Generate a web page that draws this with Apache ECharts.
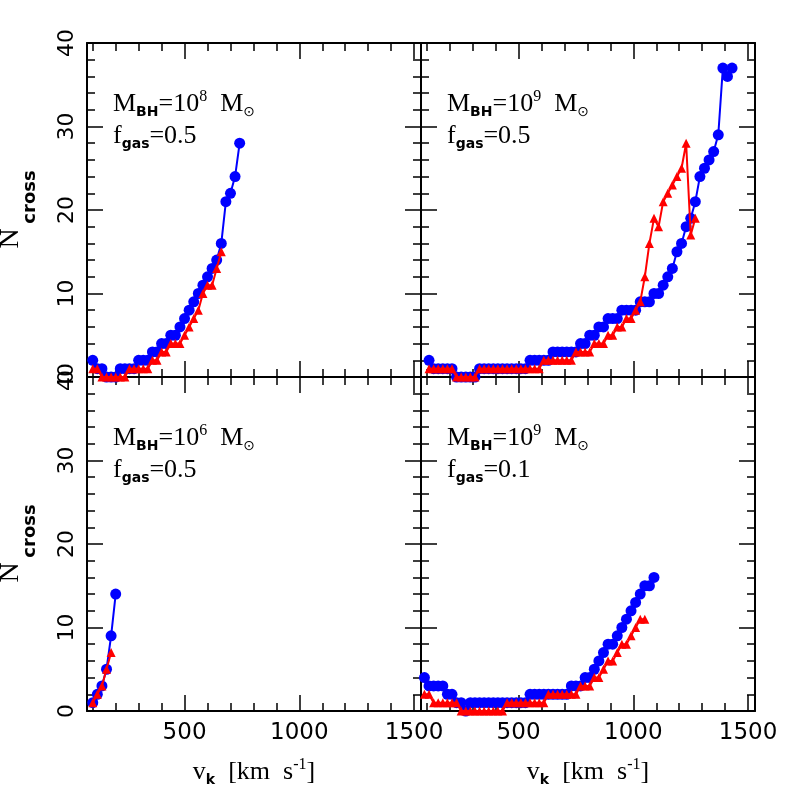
<!DOCTYPE html>
<html>
<head>
<meta charset="utf-8">
<script src="https://cdn.jsdelivr.net/npm/echarts@6/dist/echarts.min.js"></script>
<style>
html, body { margin: 0; padding: 0; background: #fff; }
#chart { width: 797px; height: 797px; }
</style>
</head>
<body>
<div id="chart"></div>
<script>
// panel A: top left, M_BH = 1e8, f_gas = 0.5
const vBlueA = [100,120,140,160,180,200,220,240,260,280,300,320,340,360,380,400,420,440,460,480,500,520,540,560,580,600,620,640,660,680,700,720,740];
const nBlueA = [2,1,1,0,0,0,1,1,1,1,2,2,2,3,3,4,4,5,5,6,7,8,9,10,11,12,13,14,16,21,22,24,28];
const vRedA = [100,120,140,160,180,200,220,240,260,280,300,320,340,360,380,400,420,440,460,480,500,520,540,560,580,600,620,640,660];
const nRedA = [1,1,0,0,0,0,0,0,1,1,1,1,1,2,2,3,3,4,4,4,5,6,7,8,10,11,11,13,15];

// panel B: top right, M_BH = 1e9, f_gas = 0.5
const vBlueB = [110,130,150,170,190,210,230,250,270,290,310,330,350,370,390,410,430,450,470,490,510,530,550,570,590,610,630,650,670,690,710,730,750,770,790,810,830,850,870,890,910,930,950,970,990,1010,1030,1050,1070,1090,1110,1130,1150,1170,1190,1210,1230,1250,1270,1290,1310,1330,1350,1370,1390,1410,1430];
const nBlueB = [2,1,1,1,1,1,0,0,0,0,0,1,1,1,1,1,1,1,1,1,1,1,2,2,2,2,2,3,3,3,3,3,3,4,4,5,5,6,6,7,7,7,8,8,8,8,9,9,9,10,10,11,12,13,15,16,18,19,21,24,25,26,27,29,37,36,37];
const vRedB = [110,130,150,170,190,210,230,250,270,290,310,330,350,370,390,410,430,450,470,490,510,530,550,570,590,610,630,650,670,690,710,730,750,770,790,810,830,850,870,890,910,930,950,970,990,1010,1030,1050,1070,1090,1110,1130,1150,1170,1190,1210,1230,1250,1270];
const nRedB = [1,1,1,1,1,1,0,0,0,0,0,1,1,1,1,1,1,1,1,1,1,1,1,1,1,2,2,2,2,2,2,2,3,3,3,3,4,4,4,5,5,6,6,7,7,8,9,12,16,19,18,21,22,23,24,25,28,17,19];

// panel C: bottom left, M_BH = 1e6, f_gas = 0.5
const vBlueC = [100,120,140,160,180,200];
const nBlueC = [1,2,3,5,9,14];
const vRedC = [100,120,140,160,180];
const nRedC = [1,2,3,5,7];

// panel D: bottom right, M_BH = 1e9, f_gas = 0.1
const vBlueD = [90,110,130,150,170,190,210,230,250,270,290,310,330,350,370,390,410,430,450,470,490,510,530,550,570,590,610,630,650,670,690,710,730,750,770,790,810,830,850,870,890,910,930,950,970,990,1010,1030,1050,1070,1090];
const nBlueD = [4,3,3,3,3,2,2,1,1,0,1,1,1,1,1,1,1,1,1,1,1,1,1,2,2,2,2,2,2,2,2,2,3,3,3,4,4,5,6,7,8,8,9,10,11,12,13,14,15,15,16];
const vRedD = [90,110,130,150,170,190,210,230,250,270,290,310,330,350,370,390,410,430,450,470,490,510,530,550,570,590,610,630,650,670,690,710,730,750,770,790,810,830,850,870,890,910,930,950,970,990,1010,1030,1050];
const nRedD = [2,2,1,1,1,1,1,1,0,0,0,0,0,0,0,0,0,0,1,1,1,1,1,1,1,1,1,2,2,2,2,2,2,2,3,3,3,4,4,5,6,6,7,8,8,9,10,11,11];

const xMajorTicks = [500, 1000, 1500];
const xMinorTicks = [100,200,300,400,500,600,700,800,900,1000,1100,1200,1300,1400,1500];
const massExp = ['8', '9', '6', '9'];
const gasFrac = ['0.5', '0.5', '0.5', '0.1'];

const panels = [
    { blue: [vBlueA, nBlueA], red: [vRedA, nRedA] },
    { blue: [vBlueB, nBlueB], red: [vRedB, nRedB] },
    { blue: [vBlueC, nBlueC], red: [vRedC, nRedC] },
    { blue: [vBlueD, nBlueD], red: [vRedD, nRedD] }
];

const black = '#000';
const gridPos = [[87, 43], [421, 43], [87, 377], [421, 377]];
const grids = gridPos.map(p => ({ left: p[0], top: p[1], width: 334, height: 334 }));

function pairs(v, n) {
    return v.map((x, k) => [x, n[k]]);
}

const tickStyle = { color: black, width: 1.5 };
let xAxes = [], yAxes = [], series = [];

grids.forEach((g, i) => {
    const xBase = {
        type: 'value', gridIndex: i, min: 75, max: 1530,
        splitLine: { show: false }
    };
    const line = { show: true, onZero: false, lineStyle: { color: black, width: 2 } };
    ['bottom', 'top'].forEach(pos => {
        xAxes.push(Object.assign({}, xBase, {
            position: pos,
            axisLine: line,
            axisTick: { inside: true, length: 16, customValues: xMajorTicks, lineStyle: tickStyle },
            axisLabel: {
                show: pos === 'bottom' && i >= 2, customValues: xMajorTicks,
                formatter: v => String(v),
                margin: 11, fontFamily: 'DejaVu Sans', fontSize: 23, color: black
            }
        }));
        xAxes.push(Object.assign({}, xBase, {
            position: pos,
            axisLine: { show: false, onZero: false },
            axisTick: { inside: true, length: 8, customValues: xMinorTicks, lineStyle: tickStyle },
            axisLabel: { show: false }
        }));
    });
    ['left', 'right'].forEach(pos => {
        yAxes.push({
            type: 'value', gridIndex: i, position: pos, min: 0, max: 40, interval: 10,
            splitLine: { show: false },
            axisLine: line,
            axisTick: { inside: true, length: 16, lineStyle: tickStyle },
            minorTick: { show: true, splitNumber: 5, length: 8, lineStyle: tickStyle },
            axisLabel: {
                show: pos === 'left' && i % 2 === 0, rotate: 90, margin: 9,
                fontFamily: 'DejaVu Sans', fontSize: 22, color: black
            }
        });
    });
    const p = panels[i];
    series.push({
        type: 'line', xAxisIndex: i * 4, yAxisIndex: i * 2,
        data: pairs(p.blue[0], p.blue[1]),
        symbol: 'circle', symbolSize: 11, clip: false, z: 2,
        itemStyle: { color: '#0000ff' }, lineStyle: { color: '#0000ff', width: 2 }
    });
    series.push({
        type: 'line', xAxisIndex: i * 4, yAxisIndex: i * 2,
        data: pairs(p.red[0], p.red[1]),
        symbol: 'triangle', symbolSize: 9, clip: false, z: 3,
        itemStyle: { color: '#ff0000' }, lineStyle: { color: '#ff0000', width: 2 }
    });
});

const rich = {
    m: { fontFamily: 'Liberation Serif', fontSize: 26, lineHeight: 30, color: black },
    sb: { fontFamily: 'DejaVu Sans', fontWeight: 'bold', fontSize: 14, lineHeight: 13, verticalAlign: 'bottom', color: black },
    sg: { fontFamily: 'DejaVu Sans', fontWeight: 'bold', fontSize: 14, lineHeight: 8, verticalAlign: 'bottom', color: black },
    sp: { fontFamily: 'Liberation Serif', fontSize: 16, lineHeight: 21, verticalAlign: 'top', color: black },
    sun: { fontFamily: 'DejaVu Sans', fontSize: 14, lineHeight: 13, verticalAlign: 'bottom', color: black }
};

let texts = [];
grids.forEach((g, i) => {
    texts.push({
        type: 'text', x: g.left + 26, y: g.top + 61,
        style: { text: '{m|M}{sb|BH}{m|=10}{sp|' + massExp[i] + '}{m|  M}{sun|⊙}', rich: rich, align: 'left', verticalAlign: 'middle' }
    });
    texts.push({
        type: 'text', x: g.left + 26, y: g.top + 93,
        style: { text: '{m|f}{sg|gas}{m|=' + gasFrac[i] + '}', rich: rich, align: 'left', verticalAlign: 'middle' }
    });
    if (i >= 2) {
        texts.push({
            type: 'text', x: g.left + g.width / 2, y: 772,
            style: { text: '{m|v}{sg|k}{m|  [km  s}{sp|-1}{m|]}', rich: rich, align: 'center', verticalAlign: 'middle' }
        });
    }
    if (i % 2 === 0) {
        texts.push({
            type: 'text', x: 10.5, y: g.top + 195.5, rotation: Math.PI / 2,
            style: { text: 'N', fontFamily: 'Liberation Serif', fontSize: 28, fill: black, align: 'center', verticalAlign: 'middle' }
        });
        texts.push({
            type: 'text', x: 30.5, y: g.top + 154, rotation: Math.PI / 2,
            style: { text: 'cross', fontFamily: 'DejaVu Sans', fontWeight: 'bold', fontSize: 18, fill: black, align: 'center', verticalAlign: 'middle' }
        });
    }
});

const chart = echarts.init(document.getElementById('chart'), null, { renderer: 'canvas' });
chart.setOption({
    backgroundColor: '#fff',
    animation: false,
    grid: grids,
    xAxis: xAxes,
    yAxis: yAxes,
    series: series,
    graphic: { elements: texts }
});
</script>
</body>
</html>
